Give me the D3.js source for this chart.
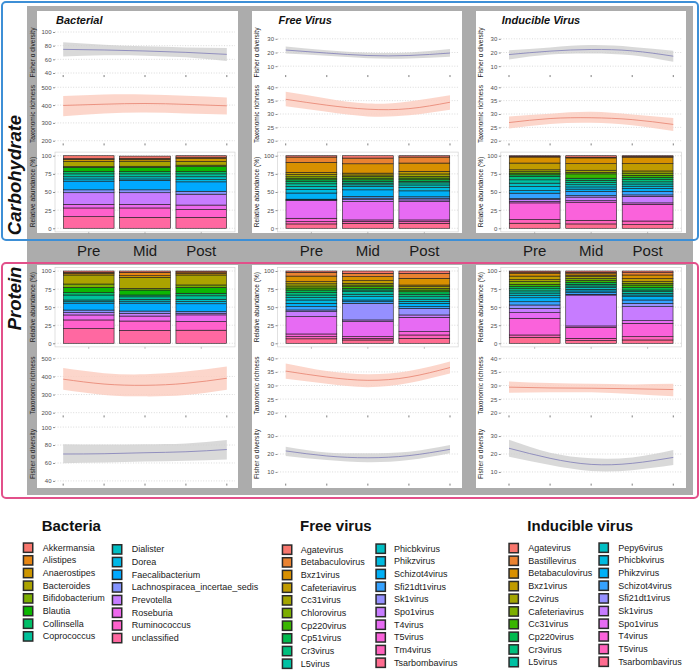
<!DOCTYPE html>
<html><head><meta charset="utf-8">
<script src="https://cdn.jsdelivr.net/npm/d3@7"></script>
<style>body{margin:0;background:#fff} svg{display:block} text{font-family:"Liberation Sans",Arial,sans-serif}</style>
</head><body><svg id="c" width="700" height="671"></svg>
<script>
// ---------------- DATA ----------------
const stages = ["Pre","Mid","Post"];
const timepoints = [1,2,3,4,5];
const bacteriaGenera = ["Akkermansia","Alistipes","Anaerostipes","Bacteroides","Bifidobacterium","Blautia","Collinsella","Coprococcus","Dialister","Dorea","Faecalibacterium","Lachnospiracea_incertae_sedis","Prevotella","Roseburia","Ruminococcus","unclassified"];
const freeVirusGenera = ["Agatevirus","Betabaculovirus","Bxz1virus","Cafeteriavirus","Cc31virus","Chlorovirus","Cp220virus","Cp51virus","Cr3virus","L5virus","Phicbkvirus","Phikzvirus","Schizot4virus","Sfi21dt1virus","Sk1virus","Spo1virus","T4virus","T5virus","Tm4virus","Tsarbombavirus"];
const inducibleVirusGenera = ["Agatevirus","Bastillevirus","Betabaculovirus","Bxz1virus","C2virus","Cafeteriavirus","Cc31virus","Cp220virus","Cr3virus","L5virus","Pepy6virus","Phicbkvirus","Phikzvirus","Schizot4virus","Sfi21dt1virus","Sk1virus","Spo1virus","T4virus","T5virus","Tsarbombavirus"];

// relative abundance (%) per stage [Pre, Mid, Post], in genus order
const carbBacterialAbund = [
  [4,1,3,7,1,6,3,4,3,3,12,4,16,5,12,16],
  [3,1.5,2.5,7,1.5,6,3,4,3,2,13,4,16,5,13,15],
  [2,2,4,5,2,7,3,4,4,3,13,4,15,6,11,15]
];
const carbFreeAbund = [
  [1.8,7.4,13.8,3,3,2.5,1.7,2.5,3,3.7,4,5,8.5,0.8,0.5,0.6,24.4,4.6,3.2,6],
  [3.2,7.9,12.9,2.5,2.1,2.3,2.3,2.3,2.3,2.3,2.3,4.6,9.2,2.3,2,2.6,25.4,2,2.6,6.9],
  [1.8,8.3,11.5,3.5,3.4,2.3,2.3,2.3,2,2.9,3.5,4.6,8.2,2,2.3,2.2,25.4,2.3,2.3,6.9]
];
const carbInducibleAbund = [
  [1,0.8,8.3,9.3,2.6,2,2.3,2.3,4.6,4.6,4.6,5.6,3.6,7.4,1,3,2,23,5,7],
  [2,1,8,9,3,2,6,3,3,3,3,3,3,6,2,5,2,25,5,6],
  [1,1,9,10,3,3,3,3,3,3,3,3,4,5,2,9,2,23,5,5]
];
const protBacterialAbund = [
  [1.8,1.5,2.2,12.5,4.6,7.4,3.2,6.9,2.3,2,9.6,3.6,3.2,6.9,12,20.3],
  [1.8,4.7,2.3,15.2,2.3,6.9,2.5,3.5,2.5,2.7,11,3.2,3.7,6.9,13,17.8],
  [1.4,2,2.1,13.8,3.2,8.3,3.5,4.8,3.2,3,10.8,2.3,2.3,9.2,12,18.1]
];
const protFreeAbund = [
  [1.8,5.2,7.7,3,3,2.8,2.8,3.5,3.4,3.5,3.4,4.6,4.6,4.6,2.3,6.9,24,3.7,3,6.2],
  [3.2,4.6,5.6,3.7,2.3,2.3,2.3,2.3,2.3,3.5,3.4,4.6,2.3,2.3,23,2.3,20.8,2.3,2.3,4.6],
  [3.2,6.9,9.3,2.3,2.3,2.3,2.4,3.4,3.5,3.4,2.9,2.9,4.5,2.3,9.2,3.3,19.8,4.6,4.6,6.9]
];
const protInducibleAbund = [
  [1.5,1.5,4,5,2.5,4,3,3,3,3,3,3.5,5.5,4.5,4.6,6,7.8,23.1,3.2,8.3],
  [1.8,2,2,2,2.5,2.5,3,2.6,2.3,2.3,2.3,2.3,2.3,2.3,1,42.8,1.9,15.2,3.2,3.7],
  [2.3,3.2,5,4.2,2.4,2.3,3.5,3.4,2.3,2.3,2.3,2.3,4.6,4.6,4.6,19.4,3.7,18.4,4.6,4.6]
];

// smoothed trends (mean and confidence band) at the 5 timepoints
const carbBacterialFisher   = {mean:[74.6,73.7,72.2,70.2,67.3], lo:[64.3,65.9,65.4,62.9,57.6], hi:[84.9,81.5,79,77.5,76.5]};
const carbBacterialRichness = {mean:[398,405,409,404,396], lo:[338,353,358,353,347], hi:[451,460,460,453,443]};
const carbFreeFisher        = {mean:[21.8,19.6,17.8,17.8,19.6], lo:[19.2,17.6,15.8,15.6,16.8], hi:[24.4,21.6,19.8,20,22.5]};
const carbFreeRichness      = {mean:[35.5,33.3,31.8,32,34.4], lo:[32.9,30.8,29.1,29.5,31.6], hi:[38.3,35.8,33.9,34.7,37]};
const carbInducibleFisher   = {mean:[18.5,21,22.2,21.2,17.3], lo:[14.9,18.5,19.3,18,13.2], hi:[21.7,23.7,25.4,24.1,21.2]};
const carbInducibleRichness = {mean:[26.8,28.3,28.6,27.9,26.1], lo:[24.6,26.3,26.7,25.8,23.6], hi:[29.1,30.1,30.8,29.8,28.5]};
const protBacterialRichness = {mean:[385,358,351,362,390], lo:[326,298,290,297,326], hi:[446,418,412,427,455]};
const protBacterialFisher   = {mean:[70,70.3,71.4,72.5,75], lo:[59.7,60.4,61.5,62.6,64], hi:[81,80.7,81,81.8,85.5]};
const protFreeRichness      = {mean:[35.3,33.1,31.9,33.1,36.6], lo:[32.5,30.6,29.4,30.9,34.4], hi:[38.1,35.3,34.1,35.3,38.8]};
const protFreeFisher        = {mean:[21.7,18.9,17.9,19.1,22.6], lo:[18.9,16.6,15.4,16.6,20.4], hi:[24.1,20.9,20.4,21.3,25]};
const protInducibleRichness = {mean:[29.4,29.1,29,28.8,28.5], lo:[27.3,27.5,27.5,26.9,26], hi:[31.5,30.9,30.6,30.4,30.6]};
const protInducibleFisher   = {mean:[23.2,17.6,14.2,14.8,18.1], lo:[18.5,13.8,10.5,11,13.8], hi:[27.9,20.7,17.6,18.1,22.2]};

const bacteriaFisherTicks = [40,60,80,100];
const bacteriaRichTicks = [200,300,400,500];
const virusFisherTicks = [10,20,30];
const virusRichTicks = [20,25,30,35,40];
const abundTicks = [0,25,50,75,100];

// ---------------- STYLE ----------------
const pal16 = ["#F8766D","#E68613","#CD9600","#ABA300","#7CAE00","#0CB702","#00BE67","#00C19A","#00BFC4","#00B8E7","#00A9FF","#8494FF","#C77CFF","#ED68ED","#FF61CC","#FF68A1"];
const pal20 = ["#F8766D","#EA8331","#D89000","#C09B00","#A3A500","#7CAE00","#39B600","#00BB4E","#00BF7D","#00C1A3","#00BFC4","#00BAE0","#00B0F6","#35A2FF","#9590FF","#C77CFF","#E76BF3","#FA62DB","#FF62BC","#FF6C90"];
const FONT = "Liberation Sans, Arial, sans-serif";

const svg = d3.select("#c");
svg.append("rect").attr("width",700).attr("height",671).attr("fill","#fff");
svg.append("rect").attr("x",27).attr("y",6).attr("width",666).attr("height",489).attr("fill","#acacac");

const cols = [
  {white:[37,238], panel:[55,235], ytitle:32.3, title:"Bacterial", genera:bacteriaGenera, pal:pal16,
   fDom:[40,100], fTicks:bacteriaFisherTicks, rDom:[200,500], rTicks:bacteriaRichTicks,
   carb:{ab:carbBacterialAbund, f:carbBacterialFisher, r:carbBacterialRichness},
   prot:{ab:protBacterialAbund, f:protBacterialFisher, r:protBacterialRichness}},
  {white:[252,462], panel:[277.5,458.2], ytitle:256.7, title:"Free Virus", genera:freeVirusGenera, pal:pal20,
   fDom:[5,35], fTicks:virusFisherTicks, rDom:[20,40], rTicks:virusRichTicks,
   carb:{ab:carbFreeAbund, f:carbFreeFisher, r:carbFreeRichness},
   prot:{ab:protFreeAbund, f:protFreeFisher, r:protFreeRichness}},
  {white:[476,686], panel:[500.8,681.5], ytitle:480.5, title:"Inducible Virus", genera:inducibleVirusGenera, pal:pal20,
   fDom:[5,35], fTicks:virusFisherTicks, rDom:[20,40], rTicks:virusRichTicks,
   carb:{ab:carbInducibleAbund, f:carbInducibleFisher, r:carbInducibleRichness},
   prot:{ab:protInducibleAbund, f:protInducibleFisher, r:protInducibleRichness}}
];
const rowsWhite = [[11,233],[265,488]];

function expand(d){const r=d[1]-d[0];return [d[0]-0.05*r,d[1]+0.05*r];}

function grid(g, y, ticks, p){
  g.selectAll(null).data(ticks).join("line")
    .attr("x1",p[0]).attr("x2",p[1]).attr("y1",d=>y(d)).attr("y2",d=>y(d))
    .attr("stroke","#c2c2c2").attr("stroke-width",0.6).attr("stroke-dasharray","1 1.6");
}
function yAxis(g, y, ticks, x0){
  const a = g.append("g").attr("transform",`translate(${x0},0)`)
    .call(d3.axisLeft(y).tickValues(ticks).tickSize(2).tickPadding(1.5).tickFormat(d3.format("d")));
  a.select(".domain").remove();
  a.selectAll("line").attr("stroke","#444").attr("stroke-width",0.6);
  a.selectAll("text").attr("font-size",6).attr("fill","#4d4d4d").attr("font-family",FONT);
}
function yTitle(g, x, yr, label){
  g.append("text").attr("transform",`translate(${x},${(yr[0]+yr[1])/2}) rotate(-90)`)
    .attr("text-anchor","middle").attr("dy","0.35em").attr("font-size",6.6).attr("fill","#222")
    .attr("font-family",FONT).text(label);
}

function linePanel(col, yr, dom, ticks, s, kind){
  const g = svg.append("g");
  const x = d3.scaleLinear().domain([0.8,5.2]).range(col.panel);
  const y = d3.scaleLinear().domain(expand(dom)).range([yr[1],yr[0]]);
  grid(g, y, ticks, col.panel);
  const pts = timepoints.map((t,i)=>({t, m:s.mean[i], lo:s.lo[i], hi:s.hi[i]}));
  const fill = kind==="f" ? "#cfcfcf" : "#fbcfc2";
  const stroke = kind==="f" ? "#7f7cb8" : "#e7826f";
  g.append("path").datum(pts).attr("fill",fill).attr("opacity",kind==="f"?0.8:0.85)
    .attr("d", d3.area().x(d=>x(d.t)).y0(d=>y(d.lo)).y1(d=>y(d.hi)).curve(d3.curveNatural));
  g.append("path").datum(pts).attr("fill","none").attr("stroke",stroke).attr("stroke-width",0.8)
    .attr("d", d3.line().x(d=>x(d.t)).y(d=>y(d.m)).curve(d3.curveNatural));
  g.selectAll(null).data(timepoints).join("line")
    .attr("x1",d=>x(d)).attr("x2",d=>x(d)).attr("y1",yr[1]).attr("y2",yr[1]+2)
    .attr("stroke","#444").attr("stroke-width",0.7);
  yAxis(g, y, ticks, col.panel[0]);
  yTitle(g, col.ytitle, yr, kind==="f" ? "Fisher \u03b1 diversity" : "Taxonomic richness");
}

function barPanel(col, yr, abund){
  const g = svg.append("g");
  const x = d3.scaleBand().domain(stages).range(col.panel).paddingInner(0.1).paddingOuter(0.15);
  const y = d3.scaleLinear().domain(expand([0,100])).range([yr[1],yr[0]]);
  g.append("rect").attr("x",col.panel[0]).attr("y",yr[0]).attr("width",col.panel[1]-col.panel[0])
    .attr("height",yr[1]-yr[0]).attr("fill","none").attr("stroke","#d4d4d4").attr("stroke-width",0.7);
  grid(g, y, abundTicks, col.panel);
  const rows = stages.map((st,i)=>{const o={stage:st}; col.genera.forEach((gn,j)=>o[gn]=abund[i][j]); return o;});
  const stacked = d3.stack().keys(col.genera.slice().reverse())(rows);
  stacked.forEach(ser=>{
    const c = col.pal[col.genera.indexOf(ser.key)];
    g.selectAll(null).data(ser).join("rect")
      .attr("x",d=>x(d.data.stage)).attr("width",x.bandwidth())
      .attr("y",d=>y(d[1])).attr("height",d=>y(d[0])-y(d[1]))
      .attr("fill",c).attr("stroke","#1c1c1c").attr("stroke-width",0.6);
  });
  g.selectAll(null).data(stages).join("line")
    .attr("x1",d=>x(d)+x.bandwidth()/2).attr("x2",d=>x(d)+x.bandwidth()/2)
    .attr("y1",yr[1]).attr("y2",yr[1]+2).attr("stroke","#999").attr("stroke-width",0.6);
  yAxis(g, y, abundTicks, col.panel[0]);
  yTitle(g, col.ytitle, yr, "Relative abundance (%)");
  return x;
}

// white panels
cols.forEach(c=>rowsWhite.forEach(r=>{
  svg.append("rect").attr("x",c.white[0]).attr("y",r[0]).attr("width",c.white[1]-c.white[0])
    .attr("height",r[1]-r[0]).attr("fill","#fff");
}));

const carbRows = {f:[29.95,75.05], r:[84.6,143.4], b:[152.1,231.9]};
const protRows = {b:[267.4,346.9], r:[355.6,415.4], f:[424.4,483.6]};

cols.forEach(c=>{
  svg.append("text").attr("x",c.panel[0]+1).attr("y",24).attr("font-size",11).attr("font-weight","bold")
    .attr("font-style","italic").attr("fill","#111").attr("font-family",FONT).text(c.title);
  linePanel(c, carbRows.f, c.fDom, c.fTicks, c.carb.f, "f");
  linePanel(c, carbRows.r, c.rDom, c.rTicks, c.carb.r, "r");
  const xb = barPanel(c, carbRows.b, c.carb.ab);
  barPanel(c, protRows.b, c.prot.ab);
  linePanel(c, protRows.r, c.rDom, c.rTicks, c.prot.r, "r");
  linePanel(c, protRows.f, c.fDom, c.fTicks, c.prot.f, "f");
  svg.selectAll(null).data(stages).join("text")
    .attr("x",d=>xb(d)+xb.bandwidth()/2).attr("y",256).attr("text-anchor","middle")
    .attr("font-size",15).attr("fill","#1a1a1a").attr("font-family",FONT).text(d=>d);
});

// group boxes
svg.append("rect").attr("x",2).attr("y",2).attr("width",696).attr("height",238).attr("rx",4)
  .attr("fill","none").attr("stroke","#3d8fd6").attr("stroke-width",2);
svg.append("rect").attr("x",2).attr("y",263).attr("width",696).attr("height",235).attr("rx",4)
  .attr("fill","none").attr("stroke","#e2508a").attr("stroke-width",2);
svg.append("text").attr("transform","translate(21,175) rotate(-90)").attr("text-anchor","middle")
  .attr("font-size",18.5).attr("font-weight","bold").attr("font-style","italic").attr("fill","#111")
  .attr("font-family",FONT).text("Carbohydrate");
svg.append("text").attr("transform","translate(21,298.5) rotate(-90)").attr("text-anchor","middle")
  .attr("font-size",18.5).attr("font-weight","bold").attr("font-style","italic").attr("fill","#111")
  .attr("font-family",FONT).text("Protein");

// legends
const legends = [
  {title:"Bacteria", tx:41.7, genera:bacteriaGenera, pal:pal16, per:8,
   cols:[{kx:22.7,lx:42.7,y0:542.3},{kx:111.7,lx:131.7,y0:544}]},
  {title:"Free virus", tx:300, genera:freeVirusGenera, pal:pal20, per:10,
   cols:[{kx:281.7,lx:300.7,y0:544.3},{kx:375.3,lx:394,y0:543.3}]},
  {title:"Inducible virus", tx:527.3, genera:inducibleVirusGenera, pal:pal20, per:10,
   cols:[{kx:508.3,lx:528.3,y0:542.7},{kx:598.3,lx:618.3,y0:542.3}]}
];
const step = 12.67;
legends.forEach(L=>{
  svg.append("text").attr("x",L.tx).attr("y",531).attr("font-size",15).attr("font-weight","bold")
    .attr("fill","#111").attr("font-family",FONT).text(L.title);
  L.genera.forEach((gn,i)=>{
    const c = L.cols[Math.floor(i/L.per)], k = i % L.per;
    const y0 = c.y0 + k*step;
    svg.append("rect").attr("x",c.kx+0.75).attr("y",y0+0.75).attr("width",9.3).attr("height",9.3)
      .attr("fill",L.pal[i]).attr("stroke","#2a2a2a").attr("stroke-width",1.5);
    svg.append("text").attr("x",c.lx).attr("y",y0+5.3).attr("dy","0.35em").attr("font-size",9)
      .attr("fill","#1a1a1a").attr("font-family",FONT).text(gn);
  });
});
</script></body></html>
